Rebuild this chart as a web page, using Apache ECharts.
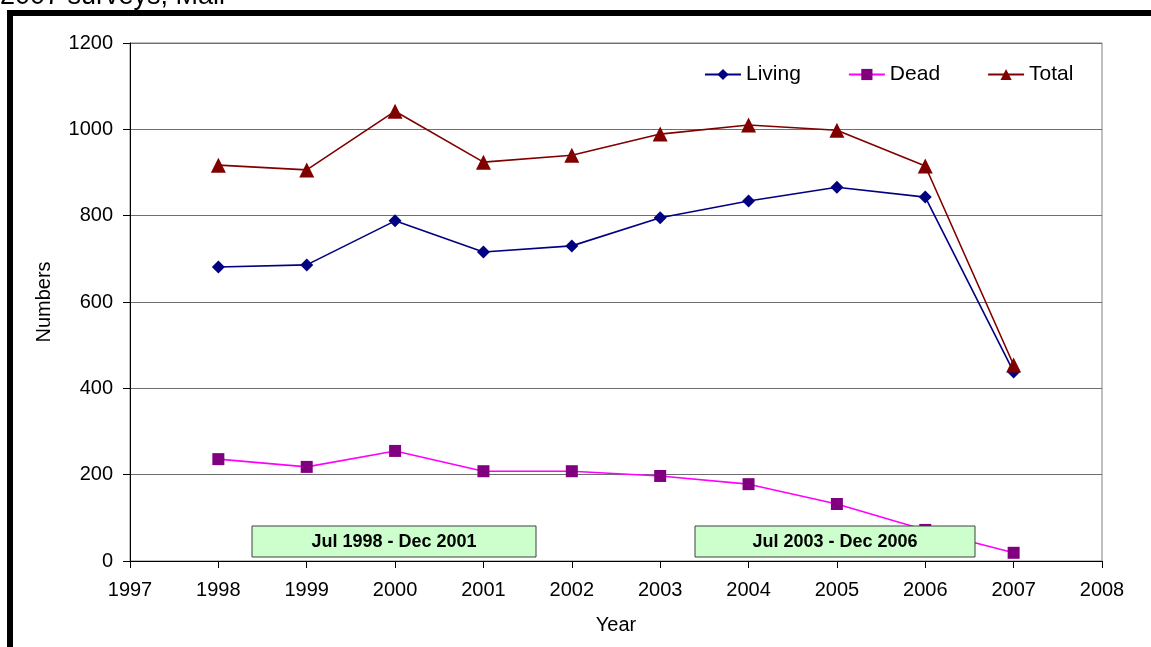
<!DOCTYPE html>
<html>
<head>
<meta charset="utf-8">
<script src="https://cdn.jsdelivr.net/npm/echarts@6/dist/echarts.min.js"></script>
<style>
  html, body { margin: 0; padding: 0; background: #ffffff; }
  #chart { width: 1151px; height: 647px; }
</style>
</head>
<body>
<div id="chart"></div>
<script>
// Survey years and counts
const years  = [1998, 1999, 2000, 2001, 2002, 2003, 2004, 2005, 2006, 2007];
const living = [681, 686, 788, 716, 730, 795, 834, 866, 843, 438];
const dead   = [236, 218, 255, 208, 208, 197, 178, 132, 72, 19];
const total  = [917, 906, 1042, 924, 940, 989, 1010, 998, 915, 454];

const xTicks = { min: 1997, max: 2008, step: 1 };
const yTicks = { min: 0, max: 1200, step: 200 };

const periodLabels = ['Jul 1998 - Dec 2001', 'Jul 2003 - Dec 2006'];

const FONT = '"Liberation Sans", Arial, sans-serif';

const pairs = vals => years.map((y, i) => [y, vals[i]]);

const chart = echarts.init(document.getElementById('chart'), null, { renderer: 'canvas' });

// Period annotation box, drawn above the series
function periodBox(x, w, label) {
  return {
    type: 'group',
    z: 100,
    children: [
      {
        type: 'rect',
        z: 100,
        shape: { x: x, y: 526, width: w, height: 31 },
        style: { fill: '#CCFFCC', stroke: '#404040', lineWidth: 1 }
      },
      {
        type: 'text',
        z: 101,
        x: x + w / 2,
        y: 542,
        style: {
          text: label,
          font: 'bold 18px ' + FONT,
          fill: '#000000',
          align: 'center',
          verticalAlign: 'middle'
        }
      }
    ]
  };
}

chart.setOption({
  backgroundColor: '#ffffff',
  animation: false,
  grid: {
    left: 130, right: 49, top: 43, bottom: 86,
    show: true,
    borderColor: '#808080',
    borderWidth: 1,
    containLabel: false
  },
  legend: {
    left: 699,
    top: 59,
    itemWidth: 36,
    itemHeight: 14,
    itemGap: 47,
    textStyle: { fontFamily: FONT, fontSize: 21, color: '#000000' },
    data: ['Living', 'Dead', 'Total']
  },
  xAxis: {
    type: 'value',
    min: xTicks.min,
    max: xTicks.max,
    interval: xTicks.step,
    name: 'Year',
    nameLocation: 'middle',
    nameGap: 54,
    nameTextStyle: { fontFamily: FONT, fontSize: 20, color: '#000000' },
    axisLine: { show: true, lineStyle: { color: '#000000', width: 1 } },
    axisTick: { show: true, inside: false, length: 7, lineStyle: { color: '#000000' } },
    axisLabel: {
      margin: 19,
      fontFamily: FONT, fontSize: 20, color: '#000000',
      formatter: v => String(v)
    },
    splitLine: { show: false }
  },
  yAxis: {
    type: 'value',
    min: yTicks.min,
    max: yTicks.max,
    interval: yTicks.step,
    name: 'Numbers',
    nameLocation: 'middle',
    nameRotate: 90,
    nameGap: 76,
    nameTextStyle: { fontFamily: FONT, fontSize: 20, color: '#000000' },
    axisLine: { show: true, lineStyle: { color: '#000000', width: 1 } },
    axisTick: { show: true, inside: false, length: 7, lineStyle: { color: '#000000' } },
    axisLabel: {
      margin: 17,
      fontFamily: FONT, fontSize: 20, color: '#000000',
      formatter: v => String(v)
    },
    splitLine: { show: true, lineStyle: { color: '#6e6e6e', width: 1.2 } }
  },
  series: [
    {
      name: 'Living',
      type: 'line',
      data: pairs(living),
      symbol: 'diamond',
      symbolSize: 13,
      lineStyle: { color: '#000080', width: 1.6 },
      itemStyle: { color: '#000080' },
      z: 3
    },
    {
      name: 'Dead',
      type: 'line',
      data: pairs(dead),
      symbol: 'rect',
      symbolSize: 12,
      lineStyle: { color: '#FF00FF', width: 1.6 },
      itemStyle: { color: '#800080' },
      z: 3
    },
    {
      name: 'Total',
      type: 'line',
      data: pairs(total),
      symbol: 'triangle',
      symbolSize: 15,
      lineStyle: { color: '#800000', width: 1.6 },
      itemStyle: { color: '#800000' },
      z: 4
    }
  ],
  graphic: [
    // heading text running off the top edge
    {
      type: 'text',
      x: 0,
      y: 10,
      style: {
        text: '2007 surveys, Mali',
        font: '27px ' + FONT,
        fill: '#000000',
        align: 'left',
        verticalAlign: 'bottom'
      }
    },
    // heavy black frame around the figure
    {
      type: 'rect',
      shape: { x: 10, y: 13, width: 1300, height: 800 },
      style: { fill: null, stroke: '#000000', lineWidth: 6 },
      silent: true
    },
    periodBox(252, 284, periodLabels[0]),
    periodBox(695, 280, periodLabels[1])
  ]
});
</script>
</body>
</html>
